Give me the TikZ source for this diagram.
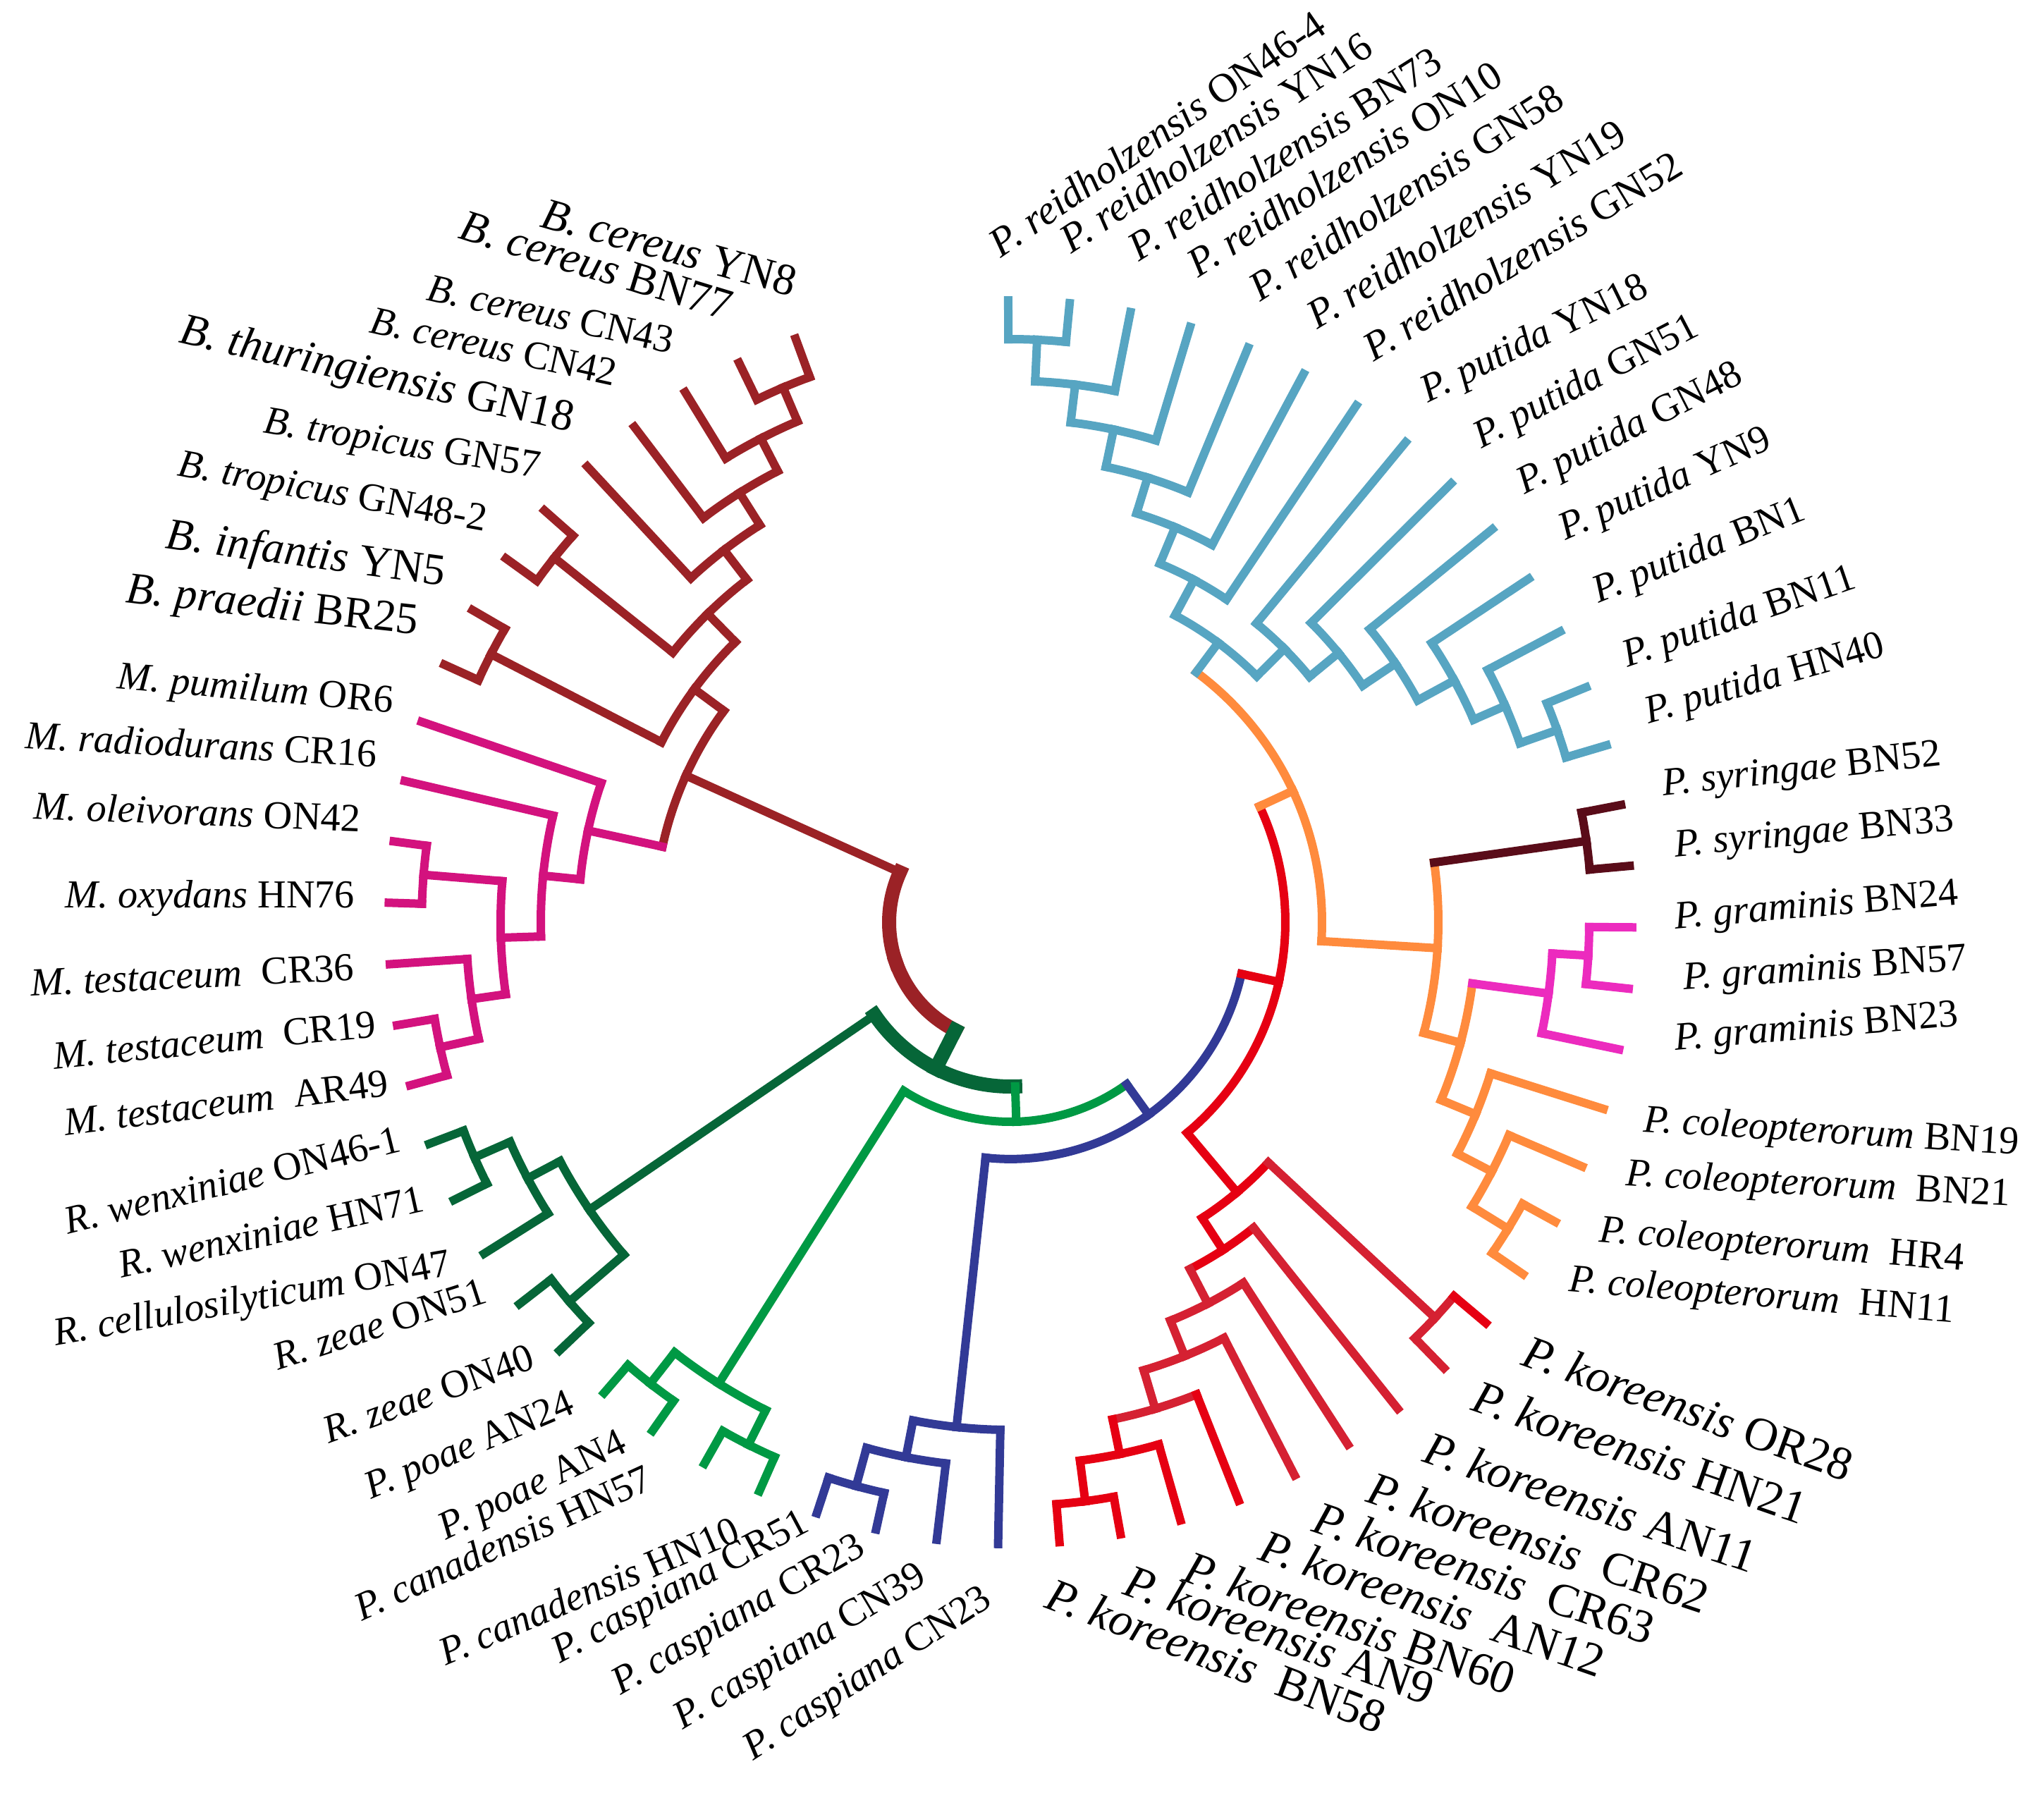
\documentclass[tikz,border=0pt]{standalone}
\usepackage{fontspec}
\setmainfont{Liberation Serif}
\usetikzlibrary{calc}

\definecolor{ltblue}{RGB}{87,165,194}
\definecolor{orng}{RGB}{255,139,61}
\definecolor{redA}{RGB}{230,0,18}
\definecolor{redB}{RGB}{213,33,50}
\definecolor{navy}{RGB}{50,58,150}
\definecolor{grn}{RGB}{0,153,68}
\definecolor{dkgrn}{RGB}{6,102,56}
\definecolor{mgnt}{RGB}{211,18,126}
\definecolor{brwn}{RGB}{155,34,38}
\definecolor{maroon}{RGB}{90,12,25}
\definecolor{pink}{RGB}{236,43,190}

% [arc style]{parent}{child}{colour of the child}
\newcommand{\branch}[4][]{%
  \draw[#4,#1] let \p1=(#2), \p2=(#3),
      \n1={atan2(\y1,\x1)}, \n2={atan2(\y2,\x2)}, \n3={veclen(\x1,\y1)},
      \n4={(\n1)+atan2(sin((\n2)-(\n1)),cos((\n2)-(\n1)))}
    in (#2) arc[start angle=\n1, end angle=\n4, radius=\n3] coordinate (e-#3);
  \draw[#4] (e-#3) -- (#3);}

\begin{document}
\begin{tikzpicture}[line width=0.12cm, line cap=rect,
    lab/.style={inner sep=0pt, font=\fontsize{16}{16}\selectfont},
    wide/.style={font=\fontsize{16.5}{16.5}\selectfont},
    mid/.style={font=\fontsize{18}{18}\selectfont},
    big/.style={font=\fontsize{19}{19}\selectfont},
    hub/.style={line width=0.2cm}]
\useasboundingbox (-14.33,-12.34) rectangle (14.66,13.08);

% leaves
\coordinate (reid1) at (90.2:8.82);  \coordinate (reid2) at (84.53:8.82);
\coordinate (reid3) at (78.87:8.82); \coordinate (reid4) at (73.2:8.82);
\coordinate (reid5) at (67.53:8.82); \coordinate (reid6) at (61.87:8.82);
\coordinate (reid7) at (56.2:8.82);
\coordinate (put1) at (50.53:8.82);  \coordinate (put2) at (44.87:8.82);
\coordinate (put3) at (39.2:8.82);   \coordinate (put4) at (33.53:8.82);
\coordinate (put5) at (27.87:8.82);  \coordinate (put6) at (22.2:8.82);
\coordinate (put7) at (16.53:8.82);
\coordinate (syr1) at (10.87:8.82);  \coordinate (syr2) at (5.2:8.82);
\coordinate (gra1) at (-0.47:8.82);  \coordinate (gra2) at (-6.13:8.82);
\coordinate (gra3) at (-11.8:8.82);
\coordinate (col1) at (-17.47:8.82); \coordinate (col2) at (-23.13:8.82);
\coordinate (col3) at (-28.8:8.82);  \coordinate (col4) at (-34.47:8.82);
\coordinate (kor1) at (-40.13:8.82); \coordinate (kor2) at (-45.8:8.82);
\coordinate (kor3) at (-51.47:8.82); \coordinate (kor4) at (-57.13:8.82);
\coordinate (kor5) at (-62.8:8.82);  \coordinate (kor6) at (-68.47:8.82);
\coordinate (kor7) at (-74.13:8.82); \coordinate (kor8) at (-79.8:8.82);
\coordinate (kor9) at (-85.47:8.82);
\coordinate (cas1) at (-91.13:8.82); \coordinate (cas2) at (-96.8:8.82);
\coordinate (cas3) at (-102.47:8.82);\coordinate (cas4) at (-108.13:8.82);
\coordinate (can1) at (-113.8:8.82); \coordinate (can2) at (-119.47:8.82);
\coordinate (poa1) at (-125.13:8.82);\coordinate (poa2) at (-130.8:8.82);
\coordinate (zea1) at (-136.47:8.82);\coordinate (zea2) at (-142.13:8.82);
\coordinate (cel) at (-147.8:8.82);  \coordinate (wen2) at (-153.47:8.82);
\coordinate (wen1) at (-159.13:8.82);
\coordinate (tes1) at (-164.8:8.82); \coordinate (tes2) at (-170.47:8.82);
\coordinate (tes3) at (-176.13:8.82);\coordinate (oxy) at (178.2:8.82);
\coordinate (ole) at (172.53:8.82);  \coordinate (rad) at (166.87:8.82);
\coordinate (pum) at (161.2:8.82);
\coordinate (pra) at (155.53:8.82);  \coordinate (inf) at (149.87:8.82);
\coordinate (tro1) at (144.2:8.82);  \coordinate (tro2) at (138.53:8.82);
\coordinate (thu) at (132.87:8.82);  \coordinate (cer1) at (127.2:8.82);
\coordinate (cer2) at (121.53:8.82); \coordinate (cer3) at (115.87:8.82);
\coordinate (cer4) at (110.2:8.82);

% inner nodes
\coordinate (reidA) at (87.37:8.27); \coordinate (reidB) at (83.12:7.68);
\coordinate (reidC) at (78.16:7.14); \coordinate (reidD) at (72.85:6.60);
\coordinate (reidE) at (67.36:6.07); \coordinate (reidF) at (61.78:5.51);
\coordinate (putF) at (19.37:8.22);  \coordinate (putE) at (23.62:7.66);
\coordinate (putD) at (28.58:7.17);  \coordinate (putC) at (33.89:6.58);
\coordinate (putB) at (39.38:6.02);  \coordinate (putA) at (44.96:5.49);
\coordinate (blue0) at (53.37:4.94);
\coordinate (syr0) at (8.03:8.25);
\coordinate (graA) at (-3.3:8.21);   \coordinate (gra0) at (-7.55:7.70);
\coordinate (colC) at (-31.63:8.29); \coordinate (colB) at (-27.38:7.69);
\coordinate (colA) at (-22.43:7.14);
\coordinate (orB) at (-14.99:6.61);  \coordinate (orA) at (-3.48:6.07);
\coordinate (hubU) at (24.95:4.42);
\coordinate (korA) at (-42.97:8.23); \coordinate (korH) at (-82.63:8.28);
\coordinate (korG) at (-78.38:7.70); \coordinate (korF) at (-73.42:7.20);
\coordinate (korE) at (-68.11:6.63); \coordinate (korD) at (-62.62:6.09);
\coordinate (korC) at (-57.04:5.54); \coordinate (korB) at (-50.0:5.00);
\coordinate (hubV) at (-12.53:3.90);
\coordinate (casA) at (-105.3:8.29); \coordinate (casB) at (-101.05:7.73);
\coordinate (casC) at (-96.09:7.20);
\coordinate (hubW) at (-54.31:3.36);
\coordinate (poaA) at (-127.97:8.30);\coordinate (canA) at (-116.63:8.29);
\coordinate (grn0) at (-122.3:7.74);
\coordinate (hubZ) at (-88.3:2.83);
\coordinate (wenA) at (-156.3:8.30); \coordinate (wenB) at (-152.05:7.75);
\coordinate (zeaA) at (-139.3:8.25); \coordinate (rhiz0) at (-145.67:7.23);
\coordinate (hubY) at (-117.0:2.33);
\coordinate (micE) at (-167.63:8.28);\coordinate (micD) at (-171.88:7.72);
\coordinate (micC) at (175.37:8.35); \coordinate (micB) at (-178.26:7.23);
\coordinate (micA) at (174.3:6.66);  \coordinate (mic0) at (167.75:6.13);
\coordinate (cerA) at (113.03:8.24); \coordinate (cerB) at (117.28:7.72);
\coordinate (cerC) at (122.24:7.20); \coordinate (cerD) at (127.56:6.66);
\coordinate (troA) at (141.37:8.28); \coordinate (bacA) at (134.46:6.13);
\coordinate (bacB) at (152.7:8.29);  \coordinate (bac0) at (143.58:5.57);
\coordinate (hubBM) at (155.67:5.05);
\coordinate (root) at (199.3:1.72);

% P. reidholzensis / P. putida
\branch{reidA}{reid1}{ltblue} \branch{reidA}{reid2}{ltblue}
\branch{reidB}{reidA}{ltblue} \branch{reidB}{reid3}{ltblue}
\branch{reidC}{reidB}{ltblue} \branch{reidC}{reid4}{ltblue}
\branch{reidD}{reidC}{ltblue} \branch{reidD}{reid5}{ltblue}
\branch{reidE}{reidD}{ltblue} \branch{reidE}{reid6}{ltblue}
\branch{reidF}{reidE}{ltblue} \branch{reidF}{reid7}{ltblue}
\branch{putF}{put6}{ltblue} \branch{putF}{put7}{ltblue}
\branch{putE}{put5}{ltblue} \branch{putE}{putF}{ltblue}
\branch{putD}{put4}{ltblue} \branch{putD}{putE}{ltblue}
\branch{putC}{put3}{ltblue} \branch{putC}{putD}{ltblue}
\branch{putB}{put2}{ltblue} \branch{putB}{putC}{ltblue}
\branch{putA}{put1}{ltblue} \branch{putA}{putB}{ltblue}
\branch{blue0}{reidF}{ltblue} \branch{blue0}{putA}{ltblue}

% syringae, graminis, coleopterorum
\branch{syr0}{syr1}{maroon} \branch{syr0}{syr2}{maroon}
\branch{graA}{gra1}{pink} \branch{graA}{gra2}{pink}
\branch{gra0}{graA}{pink} \branch{gra0}{gra3}{pink}
\branch{colC}{col3}{orng} \branch{colC}{col4}{orng}
\branch{colB}{col2}{orng} \branch{colB}{colC}{orng}
\branch{colA}{col1}{orng} \branch{colA}{colB}{orng}
\branch[orng]{orB}{gra0}{pink} \branch{orB}{colA}{orng}
\branch[orng]{orA}{syr0}{maroon} \branch{orA}{orB}{orng}
\branch[orng]{hubU}{blue0}{ltblue} \branch{hubU}{orA}{orng}

% koreensis
\branch[redB]{korA}{kor1}{redA} \branch{korA}{kor2}{redB}
\branch{korH}{kor8}{redA} \branch{korH}{kor9}{redA}
\branch{korG}{kor7}{redA} \branch{korG}{korH}{redA}
\branch[redB]{korF}{kor6}{redA} \branch[redB]{korF}{korG}{redA}
\branch{korE}{kor5}{redB} \branch{korE}{korF}{redB}
\branch{korD}{kor4}{redB} \branch{korD}{korE}{redB}
\branch[redA]{korC}{kor3}{redB} \branch[redA]{korC}{korD}{redB}
\branch[redA]{korB}{korA}{redB} \branch{korB}{korC}{redA}
\branch[redA]{hubV}{hubU}{orng} \branch{hubV}{korB}{redA}

% caspiana
\branch{casA}{cas4}{navy} \branch{casA}{cas3}{navy}
\branch{casB}{casA}{navy} \branch{casB}{cas2}{navy}
\branch{casC}{casB}{navy} \branch{casC}{cas1}{navy}
\branch{hubW}{casC}{navy} \branch[navy]{hubW}{hubV}{redA}

% canadensis, poae
\branch{poaA}{poa1}{grn} \branch{poaA}{poa2}{grn}
\branch{canA}{can1}{grn} \branch{canA}{can2}{grn}
\branch{grn0}{poaA}{grn} \branch{grn0}{canA}{grn}
\branch{hubZ}{grn0}{grn} \branch[grn]{hubZ}{hubW}{navy}

% Rhizobium
\branch{wenA}{wen1}{dkgrn} \branch{wenA}{wen2}{dkgrn}
\branch{wenB}{wenA}{dkgrn} \branch{wenB}{cel}{dkgrn}
\branch{zeaA}{zea1}{dkgrn} \branch{zeaA}{zea2}{dkgrn}
\branch{rhiz0}{wenB}{dkgrn} \branch{rhiz0}{zeaA}{dkgrn}
\branch[hub]{hubY}{rhiz0}{dkgrn} \branch[dkgrn,hub]{hubY}{hubZ}{grn}

% Microbacterium
\branch{micE}{tes1}{mgnt} \branch{micE}{tes2}{mgnt}
\branch{micD}{tes3}{mgnt} \branch{micD}{micE}{mgnt}
\branch{micC}{ole}{mgnt} \branch{micC}{oxy}{mgnt}
\branch{micB}{micC}{mgnt} \branch{micB}{micD}{mgnt}
\branch{micA}{rad}{mgnt} \branch{micA}{micB}{mgnt}
\branch{mic0}{pum}{mgnt} \branch{mic0}{micA}{mgnt}

% Bacillus
\branch{cerA}{cer3}{brwn} \branch{cerA}{cer4}{brwn}
\branch{cerB}{cerA}{brwn} \branch{cerB}{cer2}{brwn}
\branch{cerC}{cerB}{brwn} \branch{cerC}{cer1}{brwn}
\branch{cerD}{cerC}{brwn} \branch{cerD}{thu}{brwn}
\branch{troA}{tro1}{brwn} \branch{troA}{tro2}{brwn}
\branch{bacA}{cerD}{brwn} \branch{bacA}{troA}{brwn}
\branch{bacB}{pra}{brwn} \branch{bacB}{inf}{brwn}
\branch{bac0}{bacA}{brwn} \branch{bac0}{bacB}{brwn}
\branch{hubBM}{bac0}{brwn} \branch[brwn]{hubBM}{mic0}{mgnt}

% root
\branch[hub]{root}{hubBM}{brwn} \branch[brwn,hub]{root}{hubY}{dkgrn,hub}

% labels
\node[lab, wide, anchor=base west, rotate=34.7] (t-reid1) at (-0.18,9.38) {\textit{P. reidholzensis} ON46-4};
\node[lab, wide, anchor=base west, rotate=33.5] (t-reid2) at (0.81,9.44) {\textit{P. reidholzensis} YN16};
\node[lab, wide, anchor=base west, rotate=32.3] (t-reid3) at (1.77,9.33) {\textit{P. reidholzensis} BN73};
\node[lab, wide, anchor=base west, rotate=32.5] (t-reid4) at (2.61,9.10) {\textit{P. reidholzensis} ON10};
\node[lab, wide, anchor=base west, rotate=32.8] (t-reid5) at (3.49,8.76) {\textit{P. reidholzensis} GN58};
\node[lab, wide, anchor=base west, rotate=31.2] (t-reid6) at (4.30,8.37) {\textit{P. reidholzensis} YN19};
\node[lab, wide, anchor=base west, rotate=31.3] (t-reid7) at (5.10,7.91) {\textit{P. reidholzensis} GN52};
\node[lab, anchor=base west, rotate=26] (t-put1) at (5.87,7.34) {\textit{P. putida} YN18};
\node[lab, anchor=base west, rotate=27.5] (t-put2) at (6.63,6.69) {\textit{P. putida} GN51};
\node[lab, anchor=base west, rotate=27] (t-put3) at (7.24,6.04) {\textit{P. putida} GN48};
\node[lab, anchor=base west, rotate=24] (t-put4) at (7.82,5.39) {\textit{P. putida} YN9};
\node[lab, anchor=base west, rotate=22] (t-put5) at (8.29,4.50) {\textit{P. putida} BN1};
\node[lab, anchor=base west, rotate=19] (t-put6) at (8.70,3.60) {\textit{P. putida} BN11};
\node[lab, anchor=base west, rotate=16] (t-put7) at (9.00,2.80) {\textit{P. putida} HN40};
\node[lab, anchor=base west, rotate=6.3] (t-syr1) at (9.205,1.784) {\textit{P. syringae} BN52};
\node[lab, anchor=base west, rotate=5.4] (t-syr2) at (9.377,0.923) {\textit{P. syringae} BN33};
\node[lab, anchor=base west, rotate=4.9] (t-gra1) at (9.377,-0.097) {\textit{P. graminis} BN24};
\node[lab, anchor=base west, rotate=4] (t-gra2) at (9.492,-0.958) {\textit{P. graminis} BN57};
\node[lab, anchor=base west, rotate=4.9] (t-gra3) at (9.377,-1.819) {\textit{P. graminis} BN23};
\node[lab, anchor=base west, rotate=-3.5] (t-col1) at (8.918,-2.967) {\textit{P. coleopterorum} BN19};
\node[lab, anchor=base west, rotate=-3] (t-col2) at (8.66,-3.732) {\textit{P. coleopterorum}~~BN21};
\node[lab, anchor=base west, rotate=-4.5] (t-col3) at (8.287,-4.53) {\textit{P. coleopterorum}~~HR4};
\node[lab, anchor=base west, rotate=-4.6] (t-col4) at (7.856,-5.231) {\textit{P. coleopterorum}~~HN11};
\node[lab, big, anchor=base west, rotate=-19.8] (t-kor1) at (7.17,-6.25) {\textit{P. koreensis} OR28};
\node[lab, big, anchor=base west, rotate=-19.1] (t-kor2) at (6.46,-6.90) {\textit{P. koreensis} HN21};
\node[lab, big, anchor=base west, rotate=-18.8] (t-kor3) at (5.77,-7.63) {\textit{P. koreensis} AN11};
\node[lab, big, anchor=base west, rotate=-18.4] (t-kor4) at (4.97,-8.20) {\textit{P. koreensis}~~CR62};
\node[lab, big, anchor=base west, rotate=-18.6] (t-kor5) at (4.20,-8.62) {\textit{P. koreensis}~~CR63};
\node[lab, big, anchor=base west, rotate=-19.2] (t-kor6) at (3.44,-9.01) {\textit{P. koreensis}~~AN12};
\node[lab, big, anchor=base west, rotate=-19.5] (t-kor7) at (2.37,-9.31) {\textit{P. koreensis} BN60};
\node[lab, big, anchor=base west, rotate=-20.1] (t-kor8) at (1.52,-9.50) {\textit{P. koreensis} AN9};
\node[lab, big, anchor=base west, rotate=-20.8] (t-kor9) at (0.41,-9.69) {\textit{P. koreensis}~~BN58};
\node[lab, anchor=base east, rotate=33] (t-cas1) at (-0.185,-9.644) {\textit{P. caspiana} CN23};
\node[lab, anchor=base east, rotate=31] (t-cas2) at (-1.11,-9.33) {\textit{P. caspiana} CN39};
\node[lab, anchor=base east, rotate=30] (t-cas3) at (-1.98,-8.92) {\textit{P. caspiana} CR23};
\node[lab, anchor=base east, rotate=28] (t-cas4) at (-2.77,-8.59) {\textit{P. caspiana} CR51};
\node[lab, anchor=base east, rotate=23] (t-can1) at (-3.75,-8.74) {\textit{P. canadensis} HN10};
\node[lab, anchor=base east, rotate=24.5] (t-can2) at (-4.99,-8.0) {\textit{P. canadensis} HN57};
\node[lab, anchor=base east, rotate=26] (t-poa1) at (-5.36,-7.48) {\textit{P. poae} AN4};
\node[lab, anchor=base east, rotate=23] (t-poa2) at (-6.10,-6.93) {\textit{P. poae} AN24};
\node[lab, anchor=base east, rotate=20] (t-zea1) at (-6.66,-6.30) {\textit{R. zeae} ON40};
\node[lab, anchor=base east, rotate=18] (t-zea2) at (-7.34,-5.37) {\textit{R. zeae} ON51};
\node[lab, anchor=base east, rotate=10] (t-cel) at (-7.86,-5.00) {\textit{R. cellulosilyticum} ON47};
\node[lab, anchor=base east, rotate=12.5] (t-wen2) at (-8.23,-4.08) {\textit{R. wenxiniae} HN71};
\node[lab, anchor=base east, rotate=14] (t-wen1) at (-8.56,-3.23) {\textit{R. wenxiniae} ON46-1};
\node[lab, anchor=base east, rotate=7] (t-tes1) at (-8.75,-2.45) {\textit{M. testaceum}~~AR49};
\node[lab, anchor=base east, rotate=5.7] (t-tes2) at (-8.93,-1.62) {\textit{M. testaceum}~~CR19};
\node[lab, anchor=base east, rotate=2.8] (t-tes3) at (-9.24,-0.82) {\textit{M. testaceum}~~CR36};
\node[lab, anchor=base east] (t-oxy) at (-9.24,0.21) {\textit{M. oxydans} HN76};
\node[lab, anchor=base east, rotate=-2.3] (t-ole) at (-9.16,1.28) {\textit{M. oleivorans} ON42};
\node[lab, anchor=base east, rotate=-3] (t-rad) at (-8.935,2.20) {\textit{M. radiodurans} CR16};
\node[lab, anchor=base east, rotate=-5] (t-pum) at (-8.705,2.965) {\textit{M. pumilum} OR6};
\node[lab, mid, anchor=base east, rotate=-6.3] (t-pra) at (-8.36,4.075) {\textit{B. praedii} BR25};
\node[lab, mid, anchor=base east, rotate=-7.7] (t-inf) at (-7.978,4.764) {\textit{B. infantis} YN5};
\node[lab, anchor=base east, rotate=-10.3] (t-tro1) at (-7.404,5.53) {\textit{B. tropicus} GN48-2};
\node[lab, anchor=base east, rotate=-9.3] (t-tro2) at (-6.64,6.294) {\textit{B. tropicus} GN57};
\node[lab, mid, anchor=base east, rotate=-12.8] (t-thu) at (-6.18,6.945) {\textit{B. thuringiensis} GN18};
\node[lab, anchor=base east, rotate=-12.3] (t-cer1) at (-5.568,7.595) {\textit{B. cereus} CN42};
\node[lab, anchor=base east, rotate=-12.3] (t-cer2) at (-4.764,8.055) {\textit{B. cereus} CN43};
\node[lab, mid, anchor=base east, rotate=-17] (t-cer3) at (-3.96,8.514) {\textit{B. cereus} BN77};
\node[lab, mid, anchor=base east, rotate=-15.5] (t-cer4) at (-3.042,8.858) {\textit{B. cereus} YN8};
\end{tikzpicture}
\end{document}
